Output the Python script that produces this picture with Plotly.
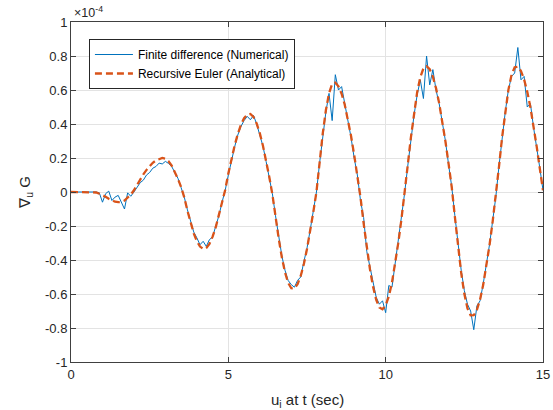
import numpy as np
import plotly.graph_objects as go

# time samples (sec), 0 .. 15 every 0.1 s
t_sec = np.round(np.arange(151) * 0.1, 1)

# Recursive Euler (Analytical), units of 1e-4
analytical = [
    0, 0, 0, 0, 0, 0, 0, 0, -0.003, -0.01,
    -0.018, -0.028, -0.04, -0.05, -0.057, -0.06, -0.058, -0.05, -0.035, -0.015,
    0.01, 0.043, 0.074, 0.104, 0.13, 0.154, 0.172, 0.186, 0.195, 0.2,
    0.196, 0.181, 0.155, 0.119, 0.077, 0.029, -0.032, -0.11, -0.181, -0.243,
    -0.29, -0.321, -0.335, -0.329, -0.305, -0.263, -0.207, -0.139, -0.063, 0.012,
    0.109, 0.195, 0.273, 0.341, 0.395, 0.434, 0.456, 0.459, 0.442, 0.403,
    0.346, 0.272, 0.185, 0.09, -0.014, -0.148, -0.273, -0.384, -0.472, -0.534,
    -0.566, -0.567, -0.542, -0.494, -0.424, -0.335, -0.232, -0.119, 0.0, 0.178,
    0.343, 0.481, 0.581, 0.636, 0.643, 0.622, 0.578, 0.513, 0.429, 0.33,
    0.217, 0.099, -0.031, -0.184, -0.327, -0.454, -0.558, -0.634, -0.679, -0.69,
    -0.667, -0.614, -0.533, -0.427, -0.301, -0.162, -0.015, 0.155, 0.319, 0.465,
    0.586, 0.675, 0.727, 0.74, 0.722, 0.678, 0.611, 0.523, 0.417, 0.297,
    0.165, 0.028, -0.147, -0.321, -0.475, -0.599, -0.685, -0.726, -0.725, -0.693,
    -0.632, -0.546, -0.439, -0.313, -0.174, -0.03, 0.147, 0.321, 0.476, 0.601,
    0.689, 0.734, 0.737, 0.712, 0.662, 0.59, 0.498, 0.39, 0.267, 0.136,
    0.01,
]

# Finite difference (Numerical), units of 1e-4
numerical = [
    0, 0, 0, 0.002, 0, 0.001, 0.002, 0, 0, -0.005,
    -0.06, -0.01, 0.005, -0.05, -0.03, -0.02, -0.06, -0.1, -0.005, -0.025,
    0.0, 0.03, 0.055, 0.07, 0.1, 0.115, 0.14, 0.15, 0.17, 0.165,
    0.18, 0.168, 0.15, 0.115, 0.08, 0.025, -0.03, -0.105, -0.17, -0.235,
    -0.27, -0.31, -0.29, -0.32, -0.28, -0.265, -0.2, -0.14, -0.06, 0.01,
    0.1, 0.19, 0.265, 0.335, 0.385, 0.42, 0.445, 0.425, 0.45, 0.4,
    0.34, 0.27, 0.18, 0.09, -0.01, -0.14, -0.265, -0.375, -0.46, -0.52,
    -0.545, -0.56, -0.52, -0.5, -0.41, -0.33, -0.225, -0.11, 0.0, 0.17,
    0.33, 0.47, 0.58, 0.42, 0.69, 0.6, 0.62, 0.52, 0.43, 0.32,
    0.2, 0.1, -0.05, -0.15, -0.35, -0.44, -0.55, -0.62, -0.66, -0.64,
    -0.71, -0.55, -0.56, -0.43, -0.3, -0.16, -0.01, 0.15, 0.31, 0.45,
    0.57, 0.66, 0.55, 0.8, 0.63, 0.72, 0.6, 0.52, 0.41, 0.3,
    0.16, 0.03, -0.14, -0.31, -0.46, -0.58, -0.66, -0.7, -0.81, -0.67,
    -0.64, -0.54, -0.43, -0.31, -0.17, -0.03, 0.15, 0.32, 0.47, 0.6,
    0.68, 0.7, 0.85, 0.66, 0.68, 0.5, 0.52, 0.38, 0.27, 0.14,
    0.01,
]

x_tick_vals = [0, 5, 10, 15]
x_tick_text = ["0", "5", "10", "15"]
y_tick_vals = [-1, -0.8, -0.6, -0.4, -0.2, 0, 0.2, 0.4, 0.6, 0.8, 1]
y_tick_text = ["-1", "-0.8", "-0.6", "-0.4", "-0.2", "0", "0.2", "0.4", "0.6", "0.8", "1"]

FONT = "Liberation Sans, Arial, Helvetica, sans-serif"
INK = "#262626"

fig = go.Figure()
fig.add_trace(go.Scatter(
    x=t_sec, y=numerical, mode="lines", name="Finite difference (Numerical)",
    line=dict(color="#0072BD", width=1),
))
fig.add_trace(go.Scatter(
    x=t_sec, y=analytical, mode="lines", name="Recursive Euler (Analytical)",
    line=dict(color="#D95319", width=2.3, dash="7px,4px"),
))

axis_common = dict(
    showline=True, linecolor="#404040", linewidth=1, mirror="ticks",
    ticks="inside", ticklen=5, tickcolor="#404040", tickwidth=1,
    showgrid=True, gridcolor="#e3e3e3", gridwidth=1, zeroline=False,
    automargin=False,
    tickfont=dict(family=FONT, size=13, color=INK),
)

fig.update_xaxes(range=[0, 15], tickvals=x_tick_vals, ticktext=x_tick_text, **axis_common)
fig.update_yaxes(range=[-1, 1], tickvals=y_tick_vals, ticktext=y_tick_text, **axis_common)

fig.update_layout(
    width=553, height=410,
    margin=dict(l=71, r=10, t=22, b=48),
    paper_bgcolor="white", plot_bgcolor="white",
    font=dict(family=FONT, color=INK),
    showlegend=True,
    legend=dict(
        x=0.038, y=0.95, xanchor="left", yanchor="top",
        bgcolor="white", bordercolor=INK, borderwidth=1,
        font=dict(family=FONT, size=12, color="black"),
        tracegroupgap=0, itemwidth=38,
    ),
    annotations=[
        dict(text="×10<sup>-4</sup>", xref="paper", yref="paper", x=0.003, y=1.0,
             xanchor="left", yanchor="bottom", showarrow=False,
             font=dict(family=FONT, size=12.5, color=INK)),
        dict(text="u<sub>i</sub> at t (sec)", xref="paper", yref="paper", x=0.5, y=-0.112,
             xanchor="center", yanchor="middle", showarrow=False,
             font=dict(family=FONT, size=15, color=INK)),
        dict(text="∇<sub>u</sub> G", xref="paper", yref="paper", x=-0.098, y=0.5,
             xanchor="center", yanchor="middle", showarrow=False, textangle=-90,
             font=dict(family=FONT, size=15, color=INK)),
    ],
)

# remove the default 8px page margin so the 553x410 figure fills the window exactly
fig.write_html(
    "out.html",
    config={"displayModeBar": False},
    post_script="document.body.style.margin='0';document.body.style.overflow='hidden';",
)
